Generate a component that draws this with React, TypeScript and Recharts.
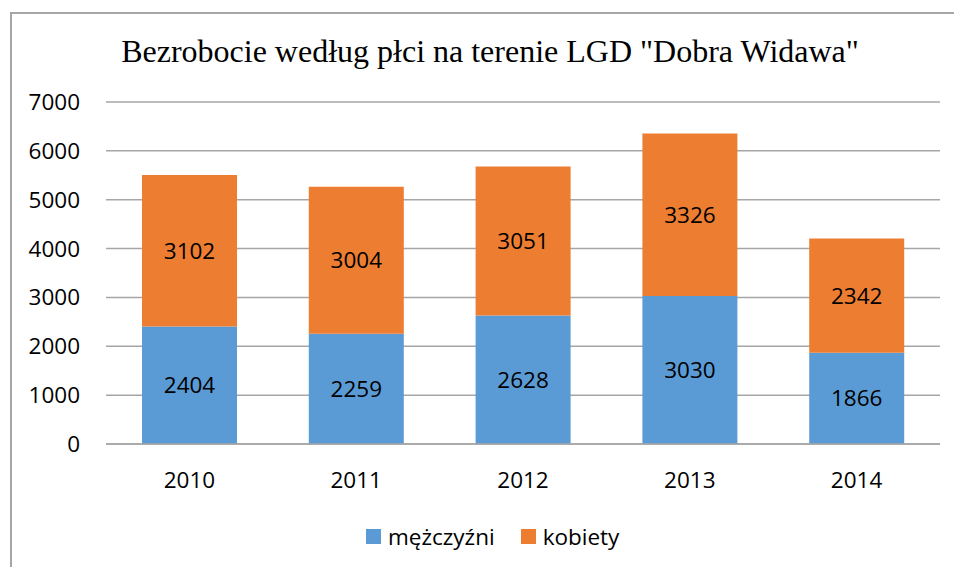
import React from "react";
import {
  BarChart,
  Bar,
  XAxis,
  YAxis,
  CartesianGrid,
  LabelList,
} from "recharts";

const years = ["2010", "2011", "2012", "2013", "2014"];
const men = [2404, 2259, 2628, 3030, 1866];
const women = [3102, 3004, 3051, 3326, 2342];
const yTicks = [0, 1000, 2000, 3000, 4000, 5000, 6000, 7000];

const data = years.map((year, i) => ({
  year,
  men: men[i],
  women: women[i],
}));

const series = [
  { key: "men", name: "mężczyźni", color: "#5b9bd5" },
  { key: "women", name: "kobiety", color: "#ed7d31" },
];

const sans = "'Open Sans', 'Liberation Sans', sans-serif";
const fs = 22.5;

export default function App() {
  // fixed box so nothing makes the page scroll
  return (
    <div
      style={{
        position: "fixed",
        left: 0,
        top: 0,
        width: 954,
        height: 567,
        overflow: "hidden",
        background: "#fff",
      }}
    >
      <div
        style={{
          position: "absolute",
          left: 10,
          top: 12,
          width: 980,
          height: 600,
          borderLeft: "2px solid #a6a6a6",
          borderTop: "2px solid #a6a6a6",
        }}
      />
      <div
        style={{
          position: "absolute",
          left: 8,
          width: 964,
          top: 34,
          textAlign: "center",
          fontFamily: "'Liberation Serif', 'Times New Roman', serif",
          fontSize: 32,
          color: "#000",
          lineHeight: "34px",
          whiteSpace: "nowrap",
        }}
      >
        Bezrobocie według płci na terenie LGD "Dobra Widawa"
      </div>
      <BarChart
        width={946}
        height={559}
        data={data}
        margin={{ top: 94, right: 14, left: 0, bottom: 0 }}
        style={{ position: "absolute", left: 8, top: 8 }}
      >
        <CartesianGrid vertical={false} stroke="#a6a6a6" strokeWidth={1.5} />
        <XAxis
          dataKey="year"
          axisLine={{ stroke: "#a6a6a6", strokeWidth: 1.5 }}
          tickLine={false}
          tickMargin={22}
          height={123}
          tick={{ fill: "#000", fontSize: fs, fontFamily: sans }}
        />
        <YAxis
          domain={[0, 7000]}
          ticks={yTicks}
          width={98}
          axisLine={false}
          tickLine={false}
          tickSize={0}
          tickMargin={26}
          tick={{ fill: "#000", fontSize: fs, fontFamily: sans }}
        />
        {series.map((s) => (
          <Bar
            key={s.key}
            dataKey={s.key}
            name={s.name}
            stackId="a"
            fill={s.color}
            barSize={95}
            isAnimationActive={false}
          >
            <LabelList
              dataKey={s.key}
              position="center"
              fill="#000"
              style={{ fontSize: fs, fontFamily: sans }}
            />
          </Bar>
        ))}
      </BarChart>
      <div
        style={{
          position: "absolute",
          left: 366,
          top: 521,
          display: "flex",
          alignItems: "center",
          fontFamily: sans,
          fontSize: fs,
          color: "#000",
          whiteSpace: "nowrap",
        }}
      >
        {series.map((s, i) => (
          <div
            key={s.key}
            style={{
              display: "flex",
              alignItems: "center",
              marginRight: i === 0 ? 26 : 0,
            }}
          >
            <span
              style={{
                display: "inline-block",
                width: 15,
                height: 15,
                background: s.color,
                marginRight: 7,
              }}
            />
            {s.name}
          </div>
        ))}
      </div>
    </div>
  );
}
